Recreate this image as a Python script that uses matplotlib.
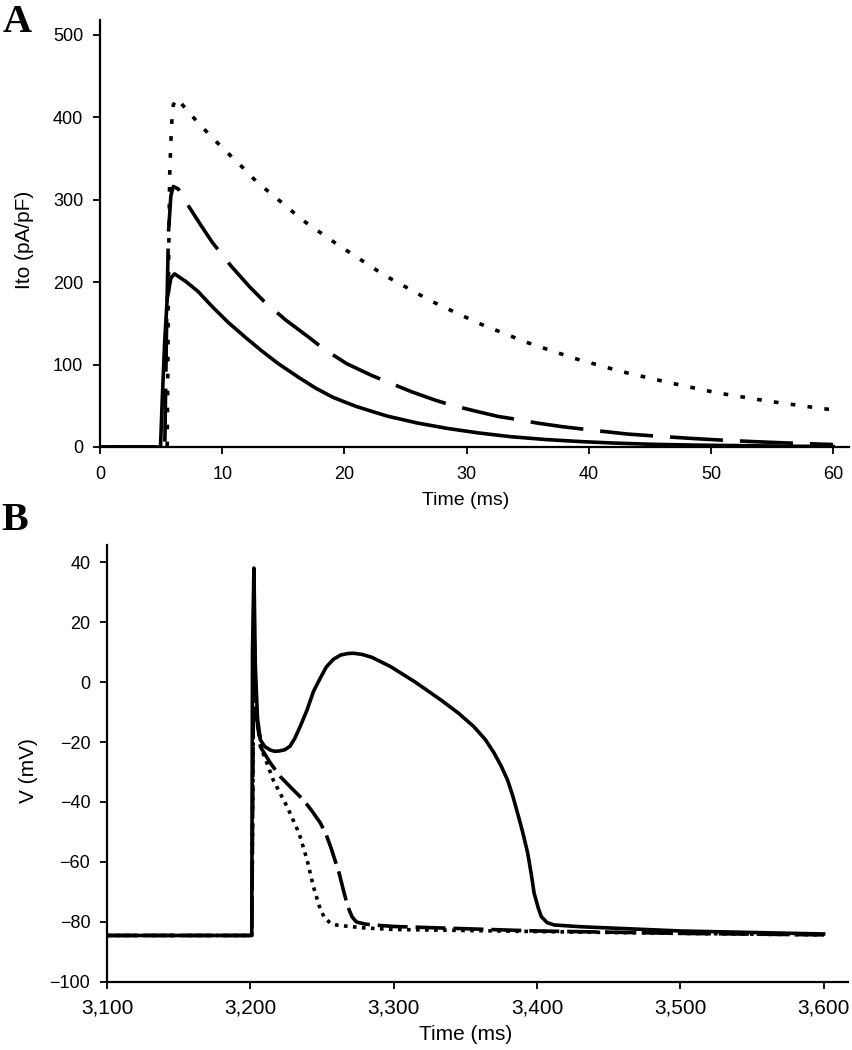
import numpy as np
import matplotlib
matplotlib.use("Agg")
import matplotlib.pyplot as plt
from matplotlib.ticker import FuncFormatter

plt.rcParams['font.family'] = ['Liberation Sans', 'DejaVu Sans']

# ---- panel A: Ito traces (ms, pA/pF) ----
t_solid_a = [0, 4.95, 5.1, 5.3, 5.5, 5.8, 6.1, 7, 8, 9.2, 10.5, 11.9, 13.2, 14.6, 16.3, 17.7,
             19.1, 21, 23.5, 26, 28.4, 31, 33.6, 36.5, 39.4, 42, 45.1, 49, 52.7, 56, 60]
i_solid_a = [0, 0, 60, 130, 180, 205, 210, 201, 189, 170, 151, 133, 117, 101, 84, 71,
             60, 49, 37.5, 29, 22.6, 17, 12.5, 9, 6.5, 4.8, 3.3, 2.2, 1.6, 1, 0.5]

t_dash_a = [0, 5.3, 5.45, 5.6, 5.8, 6.0, 6.4, 7.3, 8.3, 9.2, 10.7, 12.2, 13.4, 15.2, 17.1, 18.3,
            20.2, 22.2, 23.5, 25.5, 27.4, 28.7, 30.6, 32.6, 33.9, 35.8, 37.8, 40.5, 43.1, 45.7,
            48.3, 50.9, 53.5, 56, 58.7, 60]
i_dash_a = [0, 0, 150, 260, 305, 316, 313, 291, 268, 248, 220, 195, 177, 154, 133, 119,
            101, 87, 79, 67, 57, 51, 44, 37, 34, 29, 24.7, 20, 15.8, 13,
            10.5, 8.3, 6.5, 5, 3.6, 3]

t_dot_a = [0, 5.5, 5.6, 5.7, 5.85, 6.0, 6.3, 7.2, 8.3, 9.4, 10.5, 11.75, 12.8, 14.1, 15.4, 16.5,
           19.3, 23.2, 27.1, 31, 34.9, 38.8, 42.7, 46.6, 50.4, 54.5, 58.4, 60]
i_dot_a = [0, 0, 200, 330, 390, 415, 423, 407, 389, 372, 356, 338, 322, 306, 290, 276,
           247, 209, 177, 150, 127, 107.6, 91.4, 78, 66, 56, 48, 45]

# ---- panel B: action potentials (ms, mV) ----
t_solid_b = [3100, 3201, 3201.5, 3202.5, 3203.5, 3205, 3207, 3210, 3214, 3217, 3220, 3224,
             3227.7, 3231, 3234.7, 3239.6, 3244, 3249, 3253, 3258, 3263, 3268, 3272, 3278,
             3285, 3298, 3315, 3333, 3345, 3356, 3364, 3370, 3375, 3379.5, 3383, 3386.5,
             3390, 3393.5, 3396, 3398, 3401, 3403, 3407, 3412, 3431, 3500, 3600]
v_solid_b = [-84.5, -84.5, 10, 38, 5, -12, -19.3, -21.5, -22.7, -23.1, -23, -22.6,
             -21.4, -18.8, -14.9, -9.3, -3.2, 1.5, 5.0, 7.6, 9.0, 9.5, 9.6, 9.2,
             8.2, 5.1, 0, -6, -10.3, -14.9, -19.2, -23.6, -28, -32.7, -37.8, -43.8,
             -50, -57, -64, -70.4, -75.5, -78.2, -80.2, -81, -81.6, -83, -84]

t_dash_b = [3100, 3201, 3202.5, 3204, 3207, 3214, 3221, 3229, 3237, 3243, 3249, 3253, 3256,
            3259, 3262, 3265, 3268, 3271, 3274, 3280, 3286, 3300, 3333, 3400, 3500, 3600]
v_dash_b = [-84.5, -84.5, 18, -10, -21.6, -27, -31.6, -35.5, -39.3, -43, -47.1, -51, -54.9,
            -59.3, -63.8, -69.5, -74.9, -78.3, -80, -80.7, -81, -81.5, -82, -83, -83.8, -84.3]

t_dot_b = [3100, 3201, 3202.5, 3204, 3209, 3216, 3225.7, 3234, 3239.6, 3244, 3247, 3249, 3252,
           3256, 3260, 3265, 3280, 3300, 3400, 3500, 3600]
v_dot_b = [-84.5, -84.5, 12, -12, -23.8, -32.7, -41.6, -50.4, -59.3, -68.2, -73, -76, -78.8,
           -80.4, -81, -81.3, -82, -82.5, -83.2, -83.8, -84.3]

fig = plt.figure(figsize=(8.52, 10.5), dpi=100)
axA = fig.add_axes([0.1174, 0.5743, 0.879, 0.4067])
axB = fig.add_axes([0.1256, 0.0648, 0.8697, 0.4162])

lw = 2.6
axA.plot(t_solid_a, i_solid_a, color='black', lw=lw, solid_joinstyle='round')
axA.plot(t_dash_a, i_dash_a, color='black', lw=lw, linestyle=(0, (14.7, 4.7)))
axA.plot(t_dot_a, i_dot_a, color='black', lw=lw, linestyle=(0, (1.3, 3.4)))

axB.plot(t_solid_b, v_solid_b, color='black', lw=lw, solid_joinstyle='round')
axB.plot(t_dash_b, v_dash_b, color='black', lw=lw, linestyle=(0, (8.3, 2.2)))
axB.plot(t_dot_b, v_dot_b, color='black', lw=lw, linestyle=(0, (1, 1.5)))

axA.set_xlim(0, 61.3)
axA.set_ylim(0, 518)
axA.set_xticks(range(0, 61, 10))
axA.set_yticks(range(0, 501, 100))

axB.set_xlim(3100, 3617)
axB.set_ylim(-100, 45.7)
axB.set_xticks(range(3100, 3601, 100))
axB.set_yticks(range(-100, 41, 20))
axB.xaxis.set_major_formatter(FuncFormatter(lambda v, p: '{:,}'.format(int(v))))

for ax in (axA, axB):
    ax.spines['top'].set_visible(False)
    ax.spines['right'].set_visible(False)
    for s in ('left', 'bottom'):
        ax.spines[s].set_linewidth(1.6)
    ax.tick_params(direction='out', length=5, width=1.3, pad=7, labelsize=13)

axA.tick_params(axis='x', pad=9)
axB.tick_params(axis='x', labelsize=15, pad=7)

fig.text(0.546, 0.5238, 'Time (ms)', ha='center', va='center', fontsize=14)
fig.text(0.546, 0.0143, 'Time (ms)', ha='center', va='center', fontsize=15)
fig.text(0.0293, 0.7714, 'Ito (pA/pF)', ha='center', va='center', rotation=90, fontsize=15)
fig.text(0.033, 0.2657, 'V (mV)', ha='center', va='center', rotation=90, fontsize=15)

fig.text(0.0035, 0.9695, 'A', ha='left', va='baseline', fontsize=29,
         fontweight='bold', family='Liberation Serif')
fig.text(0.002, 0.4952, 'B', ha='left', va='baseline', fontsize=29,
         fontweight='bold', family='Liberation Serif')

fig.savefig('out.png', dpi=100)
